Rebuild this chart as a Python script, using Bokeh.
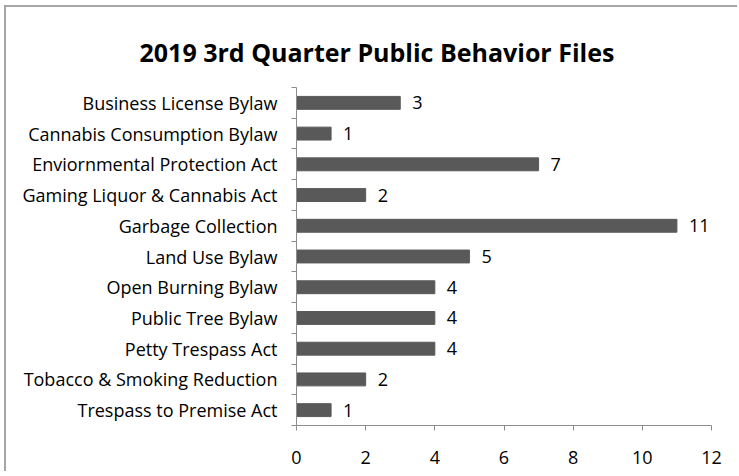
from bokeh.plotting import figure
from bokeh.models import Range1d, LinearAxis, FixedTicker, ColumnDataSource
from bokeh.embed import file_html
from bokeh.resources import INLINE

categories = [
    "Business License Bylaw",
    "Cannabis Consumption Bylaw",
    "Enviornmental Protection Act",
    "Gaming Liquor & Cannabis Act",
    "Garbage Collection",
    "Land Use Bylaw",
    "Open Burning Bylaw",
    "Public Tree Bylaw",
    "Petty Trespass Act",
    "Tobacco & Smoking Reduction",
    "Trespass to Premise Act",
]
values = [3, 1, 7, 2, 11, 5, 4, 4, 4, 2, 1]
x_ticks = [0, 2, 4, 6, 8, 10, 12]
title_text = "2019 3rd Quarter Public Behavior Files"

FONT = "Open Sans"
AXIS_COLOR = "#8c8c8c"
BAR_COLOR = "#595959"

n = len(categories)
ypos = [n - i - 0.5 for i in range(n)]  # first category at the top
src = ColumnDataSource(dict(y=ypos, val=values, lab=[str(v) for v in values]))

p = figure(
    width=733, height=466,
    y_range=Range1d(0, n), x_range=Range1d(0, 12),
    output_backend="svg", toolbar_location=None,
    min_border_left=290, min_border_right=28, min_border_top=80, min_border_bottom=48,
    title=title_text,
)
p.title.text_font = FONT
p.title.text_font_size = "25px"
p.title.text_font_style = "bold"
p.title.text_color = "#000000"
p.title.align = "left"
p.title.offset = -157
p.title.vertical_align = "top"
p.title.standoff = 34

p.outline_line_color = None
p.xgrid.grid_line_color = None
p.ygrid.grid_line_color = None
p.background_fill_color = "white"
p.border_fill_color = "white"
p.styles = {"margin-left": "4px", "margin-top": "5px",
            "border-top": "2px solid #a6a6a6", "border-left": "2px solid #a6a6a6"}

p.hbar(y="y", right="val", left=0, height=0.42, source=src,
       fill_color=BAR_COLOR, line_color=BAR_COLOR)
p.text(x="val", y="y", text="lab", source=src, x_offset=12,
       text_baseline="middle", text_align="left", text_font_size="18px",
       text_font={"value": FONT}, text_color="#000000")

# x axis
xa = p.xaxis[0]
xa.ticker = FixedTicker(ticks=x_ticks)
xa.axis_line_color = AXIS_COLOR
xa.major_tick_line_color = AXIS_COLOR
xa.major_tick_out = 5
xa.major_tick_in = 0
xa.minor_tick_line_color = None
xa.major_label_text_font = FONT
xa.major_label_text_font_size = "18px"
xa.major_label_text_color = "#000000"
xa.major_label_standoff = 20

# y axis next to frame: boundary ticks, no labels
ba = p.yaxis[0]
ba.ticker = FixedTicker(ticks=list(range(n + 1)))
ba.axis_line_color = AXIS_COLOR
ba.major_tick_line_color = AXIS_COLOR
ba.major_tick_out = 5
ba.major_tick_in = 0
ba.minor_tick_line_color = None
ba.major_label_text_font_size = "0px"
ba.major_label_standoff = 0

# label axis: category names at bar centres
la = LinearAxis(ticker=FixedTicker(ticks=ypos),
                major_label_overrides={y: c for y, c in zip(ypos, categories)})
la.axis_line_color = None
la.major_tick_line_color = None
la.minor_tick_line_color = None
la.major_label_text_font = FONT
la.major_label_text_font_size = "18px"
la.major_label_text_color = "#000000"
la.major_label_standoff = 8
p.add_layout(la, "left")

open("out.html", "w").write(file_html(p, INLINE))
